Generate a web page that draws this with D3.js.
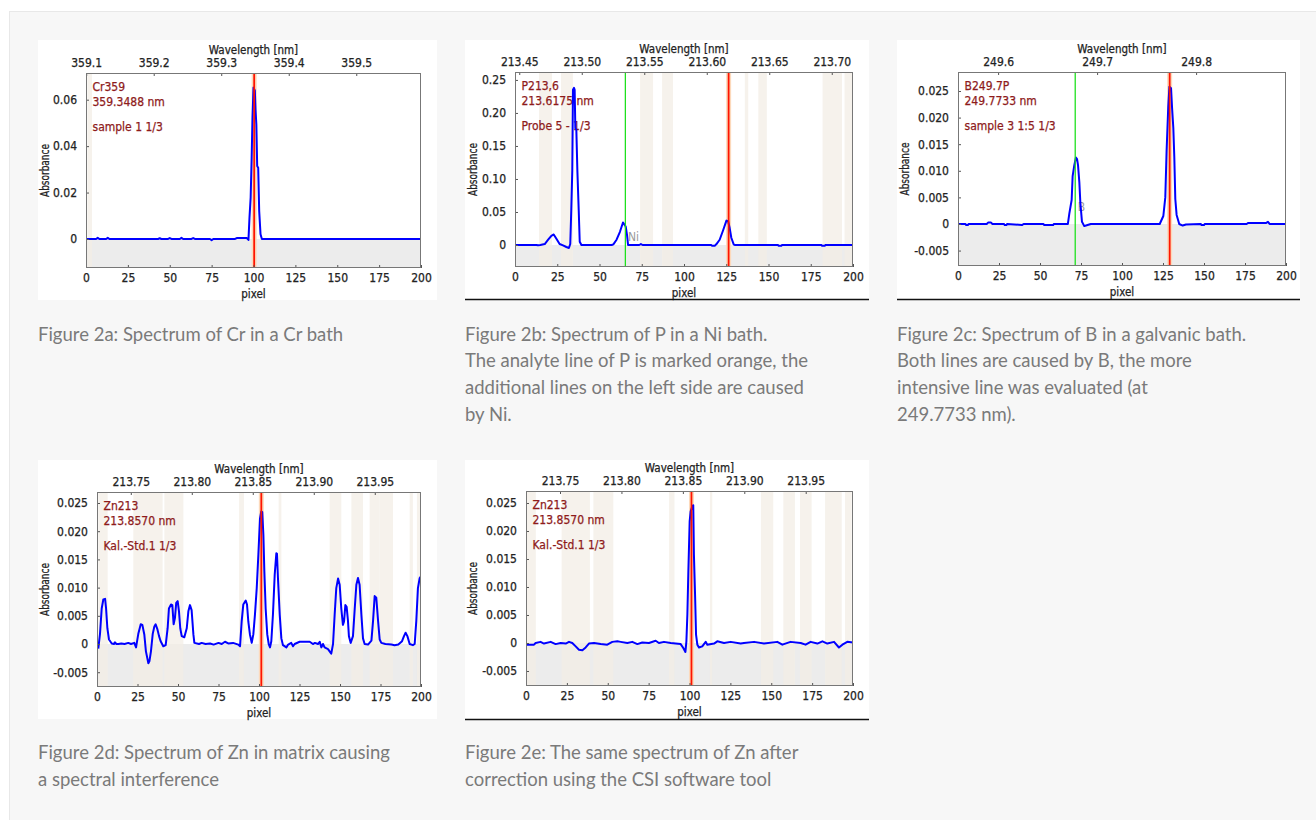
<!DOCTYPE html>
<html>
<head>
<meta charset="utf-8">
<script src="https://cdn.jsdelivr.net/npm/d3@7"></script>
<style>
  body { margin: 0; background: #fff; }
  svg { display: block; }
  .chart text { font-family: "DejaVu Sans Condensed", "DejaVu Sans", sans-serif; stroke-width: 0.25px; paint-order: stroke; }
  .caption { font-family: Lato, "Noto Sans", sans-serif; font-size: 18.5px; fill: #7a7a7a; }
</style>
</head>
<body>
<svg id="page"></svg>
<script>
const W = 1316;
const H = 820;

// ----- DATA -----
const pixelTicks = [0, 25, 50, 75, 100, 125, 150, 175, 200];

// Fig 2a - Cr359
const crWaveTicks = [359.1, 359.2, 359.3, 359.4, 359.5];
const crYTicks = [0, 0.02, 0.04, 0.06];
const crBands = [[0.8, 3.6]];
const crSpectrum = [
  [0, 0], [6, 0], [7, 0.0005], [8, 0], [12, 0], [13, 0.0005], [14, 0], [43, 0], [44, 0.0003], [45, 0],
  [49, 0], [50, 0.0004], [51, 0], [56, 0], [57, 0.0005], [58, 0], [63, 0], [64, 0.0004], [65, 0],
  [74, 0], [75, -0.0005], [76, 0], [89, 0], [90, 0.0004], [96, 0.0004], [97, -0.0004],
  [97.6, 0.0092], [98.3, 0.0178], [98.9, 0.035], [99.4, 0.0522], [100, 0.0652], [100.8, 0.064],
  [101.2, 0.0558], [101.7, 0.0494], [102.2, 0.0314], [102.8, 0.0307], [103.4, 0.012],
  [104.2, 0.002], [105, 0], [200, 0]
];

// Fig 2b - P213,6
const pWaveTicks = [213.45, 213.5, 213.55, 213.6, 213.65, 213.7];
const pYTicks = [0, 0.05, 0.1, 0.15, 0.2, 0.25];
const pBands = [[14.2, 21.9], [27.2, 34.3], [74, 81.7], [87, 93.5], [136, 138], [144, 149], [182, 193.5], [195, 200]];
const pSpectrum = [
  [0, 0], [12.6, 0], [13.6, -0.0005], [15, 0], [17.6, 0.0015], [19.5, 0.0076], [21.5, 0.014],
  [22.9, 0.016], [24.5, 0.0096], [26.4, 0.0015], [28.4, -0.0005], [30.4, -0.003], [31.9, -0.0045],
  [32.7, 0.0015], [33.3, 0.053], [33.9, 0.113], [34.3, 0.235], [34.9, 0.238], [35.3, 0.235],
  [35.7, 0.177], [36.3, 0.174], [36.9, 0.113], [37.7, 0.053], [38.3, 0.005], [39.3, 0],
  [57.2, 0], [58.2, 0.001], [60.1, 0.008], [62.1, 0.02], [63.9, 0.034], [64.5, 0.032],
  [65.5, 0.028], [66.3, 0.015], [66.9, 0], [73.5, 0], [74.5, 0.0015], [75.5, 0],
  [116.1, 0], [116.6, -0.001], [118.2, -0.001], [119.1, 0.001], [121.1, 0.008], [123.1, 0.022],
  [125.1, 0.037], [126.1, 0.036], [127, 0.026], [128, 0.011], [129.4, 0.001], [130, 0],
  [155.6, 0], [156, -0.001], [157.6, -0.001], [158, 0], [181.3, 0], [181.7, -0.001],
  [183.3, -0.001], [183.7, 0], [200, 0]
];

// Fig 2c - B249.7P
const bWaveTicks = [249.6, 249.7, 249.8];
const znYTicks = [-0.005, 0, 0.005, 0.01, 0.015, 0.02, 0.025];
const bSpectrum = [
  [0, 0], [4.5, 0], [5, -0.0002], [6, -0.0002], [6.5, 0], [17.5, 0], [18.5, 0.0003], [20, 0.0003],
  [21, 0], [28, 0], [28.5, -0.0002], [29.5, -0.0002], [30, 0], [39, -0.0002], [40, 0], [52, 0],
  [52.6, -0.0002], [58, -0.0002], [58.5, 0], [67, 0], [67.9, 0.002], [69.3, 0.0045], [69.9, 0.009],
  [70.9, 0.011], [71.9, 0.0125], [72.6, 0.0122], [73.2, 0.011], [74, 0.0078], [74.6, 0.004],
  [75.6, 0.0004], [77, -0.0004], [79, -0.0002], [81, 0], [123, 0], [125.2, 0.0015], [126.4, 0.005],
  [127.2, 0.0138], [128.2, 0.022], [128.9, 0.0258], [129.9, 0.0255], [130.5, 0.022], [131.3, 0.018],
  [131.9, 0.0125], [132.5, 0.0047], [133.3, 0.0017], [134.9, 0], [137, -0.0003], [139, -0.0001],
  [148, 0], [148.5, -0.0002], [150, -0.0002], [150.5, 0], [176, 0], [177, 0.0002], [188, 0.0002],
  [189, 0.0004], [190, 0], [200, 0]
];

// Fig 2d / 2e - Zn213
const znWaveTicks = [213.75, 213.8, 213.85, 213.9, 213.95];
const znBandsBefore = [[0.8, 6.6], [22.4, 40.5], [41.6, 53.3], [87.7, 90.7], [112.1, 113.8], [143.6, 150.8],
  [157, 164.2], [168.3, 174.5], [174.5, 182.7], [193, 195], [197.5, 200]];
const znBandsAfter = [[0, 6], [21.8, 39.1], [41.2, 53.4], [87.5, 90.8], [112.5, 113.9], [143.7, 151.2],
  [157.4, 164.5], [167.6, 174.7], [182.9, 193.1], [195.1, 199.2]];
const znSpectrumBefore = [
  [0.8, -0.0008], [1.85, 0.0018], [2.9, 0.0063], [3.9, 0.0079], [5, 0.008], [5.6, 0.0063], [6.4, 0.0028],
  [7.4, 0.0008], [9.1, 0.0001], [10.5, 0], [11.1, 0.0003], [12, 0], [13.2, 0], [15, 0.0001], [17, 0],
  [19.3, 0.0002], [21, 0], [23, 0.0002], [24.1, -0.0006], [25.5, 0.0018], [27, 0.0035], [28, 0.0034],
  [29.2, 0.0017], [30.2, -0.0013], [31.7, -0.0034], [32.4, -0.003], [33.3, -0.0013], [34.4, 0.0018],
  [35.4, 0.0031], [36.2, 0.0035], [37.2, 0.0027], [38.3, 0.0014], [39.3, 0.0005], [40.9, -0.0004],
  [42.4, -0.0002], [43.6, 0.0028], [44.4, 0.0063], [45.7, 0.007], [46.5, 0.0069], [47.3, 0.0035],
  [48.1, 0.0046], [48.9, 0.0073], [49.8, 0.0076], [50.6, 0.0058], [51.4, 0.0028], [52.3, 0.0014],
  [53.9, 0.0012], [55.4, 0.0028], [56.4, 0.0058], [57.4, 0.0069], [58.4, 0.006], [59.5, 0.0017],
  [60.1, 0.0002], [63, 0], [64.6, 0.0002], [67, 0], [69.8, 0.0001], [72, -0.0001], [75, 0.0002],
  [77, 0], [79, 0.0004], [81, 0.0001], [84, 0.0002], [87.2, -0.0001], [88.3, -0.0004], [89.3, 0.004],
  [90.3, 0.007], [91.8, 0.0077], [92.6, 0.007], [93.4, 0.004], [94.4, 0.0017], [95.5, 0.0002],
  [96.5, 0.0017], [97.5, 0.0052], [98.6, 0.0099], [99.6, 0.0158], [100.6, 0.0222], [101.4, 0.0235],
  [102, 0.0234], [102.7, 0.0194], [103.3, 0.0129], [104.1, 0.0063], [105.1, 0.0017], [106, 0],
  [106.8, -0.0006], [107.6, 0.0005], [108.6, 0.0052], [109.7, 0.0123], [110.7, 0.0161], [111.1, 0.016],
  [111.7, 0.0117], [112.8, 0.0052], [113.8, 0.001], [114.8, -0.0002], [116.9, -0.0006], [118, -0.0001],
  [119.9, 0.0002], [121, -0.0004], [122, 0], [125.1, 0.0004], [131.3, 0.0004], [133.3, 0],
  [134.5, 0.0002], [136.4, 0], [137.5, 0.0004], [138.5, -0.0006], [139.5, 0], [140.5, -0.0006],
  [142.6, -0.0009], [143.6, -0.0013], [144.6, -0.0017], [145.7, 0], [146.7, 0.0052], [147.7, 0.0099],
  [148.8, 0.0116], [149.8, 0.0105], [150.8, 0.0063], [151.8, 0.0034], [152.5, 0.004], [153.3, 0.0069],
  [154.1, 0.0066], [154.9, 0.0042], [155.5, 0.0014], [156.6, 0.0002], [158, 0.0014], [159.1, 0.0063],
  [160.1, 0.0105], [161.1, 0.0117], [162.1, 0.0105], [163.2, 0.0052], [164.2, 0.001], [165.2, 0],
  [167.3, -0.0001], [169.4, 0.0006], [170.4, 0.0041], [171.4, 0.0085], [172.4, 0.0082], [173.5, 0.0041],
  [174.5, 0.0008], [175.5, 0.0002], [178, 0], [181.7, -0.0001], [183.7, -0.0002], [186, -0.0001],
  [188.3, 0.0005], [189.5, 0.0014], [190.5, 0.002], [191.6, 0.0014], [193, 0], [195, -0.0002],
  [196.1, 0], [197.1, 0.0041], [198.1, 0.0099], [199.2, 0.0117], [200, 0.012]
];
const znSpectrumAfter = [
  [0, -0.0003], [4.9, -0.0003], [5.9, 0], [8.9, 0.0002], [11, -0.0001], [15.1, 0.0002], [18.1, -0.0002],
  [21.2, 0], [24.3, -0.0001], [26.3, 0.0002], [28.3, 0], [30.4, -0.0006], [32.4, -0.0012], [34.5, -0.0013],
  [36.5, -0.0008], [38.5, -0.0001], [41.6, 0], [45.7, -0.0002], [49.7, -0.0003], [52.8, 0.0002],
  [55.9, 0.0003], [57.9, 0.0002], [62, 0], [65, 0.0002], [68.1, -0.0002], [71.1, 0.0001], [75.2, 0],
  [79.3, 0.0004], [81.3, 0], [84.4, 0.0002], [88.5, 0], [91.5, -0.0001], [94.6, -0.0002], [96.2, -0.0009],
  [97.5, -0.0016], [98.1, 0.0003], [98.7, 0.0051], [99.3, 0.0128], [100.1, 0.0217], [100.7, 0.0235],
  [101.7, 0.0244], [102.3, 0.0246], [102.7, 0.0158], [103.4, 0.0086], [104, 0.0015], [104.8, -0.0003],
  [105.8, -0.0008], [107.8, -0.0006], [109.9, 0.0002], [110.9, -0.0003], [115, -0.0001], [117, 0.0003],
  [121.1, 0], [125.2, 0.0002], [131.3, -0.0001], [133.3, 0], [139.5, 0.0002], [145.6, -0.0001],
  [153.7, 0.0002], [156.8, -0.0003], [161.8, 0.0002], [168, 0], [171, -0.0003], [174.1, 0.0002],
  [178.2, -0.0001], [181.3, 0.0003], [184.3, -0.0001], [188.4, 0.0002], [191.4, -0.0008], [193.5, -0.0003],
  [196.5, 0.0002], [200, 0.0001]
];

// analysis info printed inside each plot
const crNotes = ["Cr359", "359.3488 nm", "sample 1 1/3"];
const pNotes = ["P213,6", "213.6175 nm", "Probe 5 - 1/3"];
const bNotes = ["B249.7P", "249.7733 nm", "sample 3 1:5 1/3"];
const znNotes = ["Zn213", "213.8570 nm", "Kal.-Std.1 1/3"];

const captionA = ["Figure 2a: Spectrum of Cr in a Cr bath"];
const captionB = ["Figure 2b: Spectrum of P in a Ni bath.", "The analyte line of P is marked orange, the",
  "additional lines on the left side are caused", "by Ni."];
const captionC = ["Figure 2c: Spectrum of B in a galvanic bath.", "Both lines are caused by B, the more",
  "intensive line was evaluated (at", "249.7733 nm)."];
const captionD = ["Figure 2d: Spectrum of Zn in matrix causing", "a spectral interference"];
const captionE = ["Figure 2e: The same spectrum of Zn after", "correction using the CSI software tool"];

// ----- LAYOUT -----
const locale = d3.formatLocale({ decimal: ".", thousands: ",", grouping: [3], currency: ["", ""], minus: "-" });
const fmt0 = f => d => d === 0 ? "0" : locale.format(f)(d);

const charts = [
  { box: [38, 40, 399, 260], plot: [86, 73, 421, 268], data: crSpectrum, bands: crBands,
    yDomain: [-0.0125, 0.0715], yTicks: crYTicks, yFmt: fmt0(".2f"), ylabX: -41,
    wave: [359.0997, 359.5959], waveTicks: crWaveTicks, waveFmt: d3.format(".1f"),
    red: 359.3488, green: null, notes: crNotes, rule: false, caption: captionA, capY: 340.5 },
  { box: [465, 40, 404, 260], plot: [515, 72, 853, 267], data: pSpectrum, bands: pBands,
    yDomain: [-0.0333, 0.262], yTicks: pYTicks, yFmt: fmt0(".2f"), ylabX: -42,
    wave: [213.4466, 213.7170], waveTicks: pWaveTicks, waveFmt: d3.format(".2f"),
    red: 213.6175, green: 213.5349, tag: { text: "Ni", p: 66.9, v: 0.012 },
    notes: pNotes, rule: true, caption: captionB, capY: 340.5 },
  { box: [897, 40, 403, 260], plot: [958, 72, 1286, 266], data: bSpectrum, bands: [],
    yDomain: [-0.0079, 0.02857], yTicks: znYTicks, yFmt: fmt0(".3f"), ylabX: -53,
    wave: [249.5595, 249.8908], waveTicks: bWaveTicks, waveFmt: d3.format(".1f"),
    red: 249.7733, green: 249.6779, tag: { text: "B", p: 73, v: 0.0033 },
    notes: bNotes, rule: true, caption: captionC, capY: 340.5 },
  { box: [38, 460, 399, 259], plot: [97, 492, 421, 687], data: znSpectrumBefore, bands: znBandsBefore,
    yDomain: [-0.00762, 0.02695], yTicks: znYTicks, yFmt: fmt0(".3f"), ylabX: -52,
    wave: [213.7223, 213.9879], waveTicks: znWaveTicks, waveFmt: d3.format(".2f"),
    red: 213.857, green: null, notes: znNotes, rule: false, caption: captionD, capY: 759 },
  { box: [465, 460, 404, 260], plot: [526, 491, 853, 686], data: znSpectrumAfter, bands: znBandsAfter,
    yDomain: [-0.00768, 0.02714], yTicks: znYTicks, yFmt: fmt0(".3f"), ylabX: -53,
    wave: [213.7223, 213.9885], waveTicks: znWaveTicks, waveFmt: d3.format(".2f"),
    red: 213.857, green: null, notes: znNotes, rule: true, caption: captionE, capY: 759 }
];

const svg = d3.select("#page").attr("width", W).attr("height", H);

// light page panel
svg.append("rect")
  .attr("x", 9.5).attr("y", 11.5)
  .attr("width", W).attr("height", H)
  .attr("fill", "#f7f7f7").attr("stroke", "#e8e8e8");

function styleAxis(sel, size) {
  sel.attr("font-family", null).attr("font-size", size);
  sel.select(".domain").remove();
  sel.selectAll(".tick line").attr("stroke", "#555");
  sel.selectAll(".tick text").attr("fill", "#222").attr("stroke", "#222");
}

charts.forEach((c, i) => {
  const g = svg.append("g").attr("class", "chart");
  const [l, t, r, b] = c.plot;

  g.append("rect")
    .attr("x", c.box[0]).attr("y", c.box[1])
    .attr("width", c.box[2]).attr("height", c.box[3])
    .attr("fill", "#fff");

  const x = d3.scaleLinear().domain([0, 200]).range([l, r]);
  const y = d3.scaleLinear().domain(c.yDomain).range([b, t]);
  const xw = d3.scaleLinear().domain(c.wave).range([l, r]);

  const clipId = "clip" + i;
  g.append("clipPath").attr("id", clipId)
    .append("rect").attr("x", l).attr("y", t).attr("width", r - l).attr("height", b - t);

  const inner = g.append("g").attr("clip-path", `url(#${clipId})`);

  // shaded area below zero
  inner.append("rect")
    .attr("x", l).attr("y", y(0))
    .attr("width", r - l).attr("height", b - y(0))
    .attr("fill", "#ececec");

  // masked pixel ranges
  inner.append("g").selectAll("rect")
    .data(c.bands)
    .join("rect")
    .attr("x", d => x(d[0]))
    .attr("width", d => x(d[1]) - x(d[0]))
    .attr("y", t).attr("height", b - t)
    .attr("fill", "#f3ede6")
    .attr("opacity", 0.75);

  // orange window round the analyte line
  inner.append("rect")
    .attr("x", xw(c.red) - 2.5).attr("width", 5)
    .attr("y", t).attr("height", b - t)
    .attr("fill", "#fcd9bb");

  // sample info
  const notesY = [t + 17.5, t + 32.5, t + 57.5];
  inner.selectAll("text.note")
    .data(c.notes)
    .join("text")
    .attr("class", "note")
    .attr("x", l + 6.5)
    .attr("y", (d, k) => notesY[k])
    .attr("font-size", 12)
    .attr("fill", "#8e1b1b")
    .attr("stroke", "#8e1b1b")
    .text(d => d);

  if (c.tag) {
    inner.append("text")
      .attr("x", x(c.tag.p)).attr("y", y(c.tag.v))
      .attr("dy", "0.35em")
      .attr("font-size", 12)
      .attr("fill", "#9a9a9a")
      .text(c.tag.text);
  }

  const line = d3.line().x(d => x(d[0])).y(d => y(d[1]));
  inner.append("path")
    .datum(c.data)
    .attr("fill", "none")
    .attr("stroke", "#0000ff")
    .attr("stroke-width", 2)
    .attr("stroke-linejoin", "round")
    .attr("d", line);

  if (c.green !== null) {
    inner.append("line")
      .attr("x1", xw(c.green)).attr("x2", xw(c.green))
      .attr("y1", t).attr("y2", b)
      .attr("stroke", "#1ee01e").attr("stroke-width", 1.3);
  }
  inner.append("line")
    .attr("x1", xw(c.red)).attr("x2", xw(c.red))
    .attr("y1", t).attr("y2", b)
    .attr("stroke", "#ff1400").attr("stroke-width", 1.8);

  // axes (ticks point into the plot)
  g.append("g")
    .attr("transform", `translate(${l},0)`)
    .call(d3.axisLeft(y).tickValues(c.yTicks).tickSize(-3).tickPadding(9).tickFormat(c.yFmt))
    .call(s => styleAxis(s, 12));

  g.append("g")
    .attr("transform", `translate(0,${b})`)
    .call(d3.axisBottom(x).tickValues(pixelTicks).tickSize(-3).tickPadding(5.5))
    .call(s => styleAxis(s, 12));

  g.append("g")
    .attr("transform", `translate(0,${t})`)
    .call(d3.axisTop(xw).tickValues(c.waveTicks).tickSize(-3).tickPadding(6).tickFormat(c.waveFmt))
    .call(s => styleAxis(s, 12));

  g.append("rect")
    .attr("x", l + 0.5).attr("y", t + 0.5)
    .attr("width", r - l - 1).attr("height", b - t - 1)
    .attr("fill", "none").attr("stroke", "#777");

  // axis titles
  g.append("text")
    .attr("x", (l + r) / 2).attr("y", t - 19.5)
    .attr("text-anchor", "middle").attr("font-size", 11.5).attr("fill", "#222").attr("stroke", "#222")
    .text("Wavelength [nm]");
  g.append("text")
    .attr("x", (l + r) / 2).attr("y", b + 30)
    .attr("text-anchor", "middle").attr("font-size", 11.5).attr("fill", "#222").attr("stroke", "#222")
    .text("pixel");
  g.append("text")
    .attr("transform", `translate(${l + c.ylabX},${(t + b) / 2}) rotate(-90)`)
    .attr("dy", "0.35em")
    .attr("text-anchor", "middle").attr("font-size", 11.5).attr("fill", "#222").attr("stroke", "#222")
    .attr("textLength", 53).attr("lengthAdjust", "spacingAndGlyphs")
    .text("Absorbance");

  if (c.rule) {
    g.append("line")
      .attr("x1", c.box[0]).attr("x2", c.box[0] + c.box[2])
      .attr("y1", c.box[1] + c.box[3] - 0.5).attr("y2", c.box[1] + c.box[3] - 0.5)
      .attr("stroke", "#111").attr("stroke-width", 1.5);
  }

  // caption under the figure
  svg.append("text")
    .attr("class", "caption")
    .attr("x", c.box[0])
    .attr("y", c.capY)
    .selectAll("tspan")
    .data(c.caption)
    .join("tspan")
    .attr("x", c.box[0])
    .attr("dy", (d, k) => k === 0 ? 0 : 26.7)
    .text(d => d);
});
</script>
</body>
</html>
